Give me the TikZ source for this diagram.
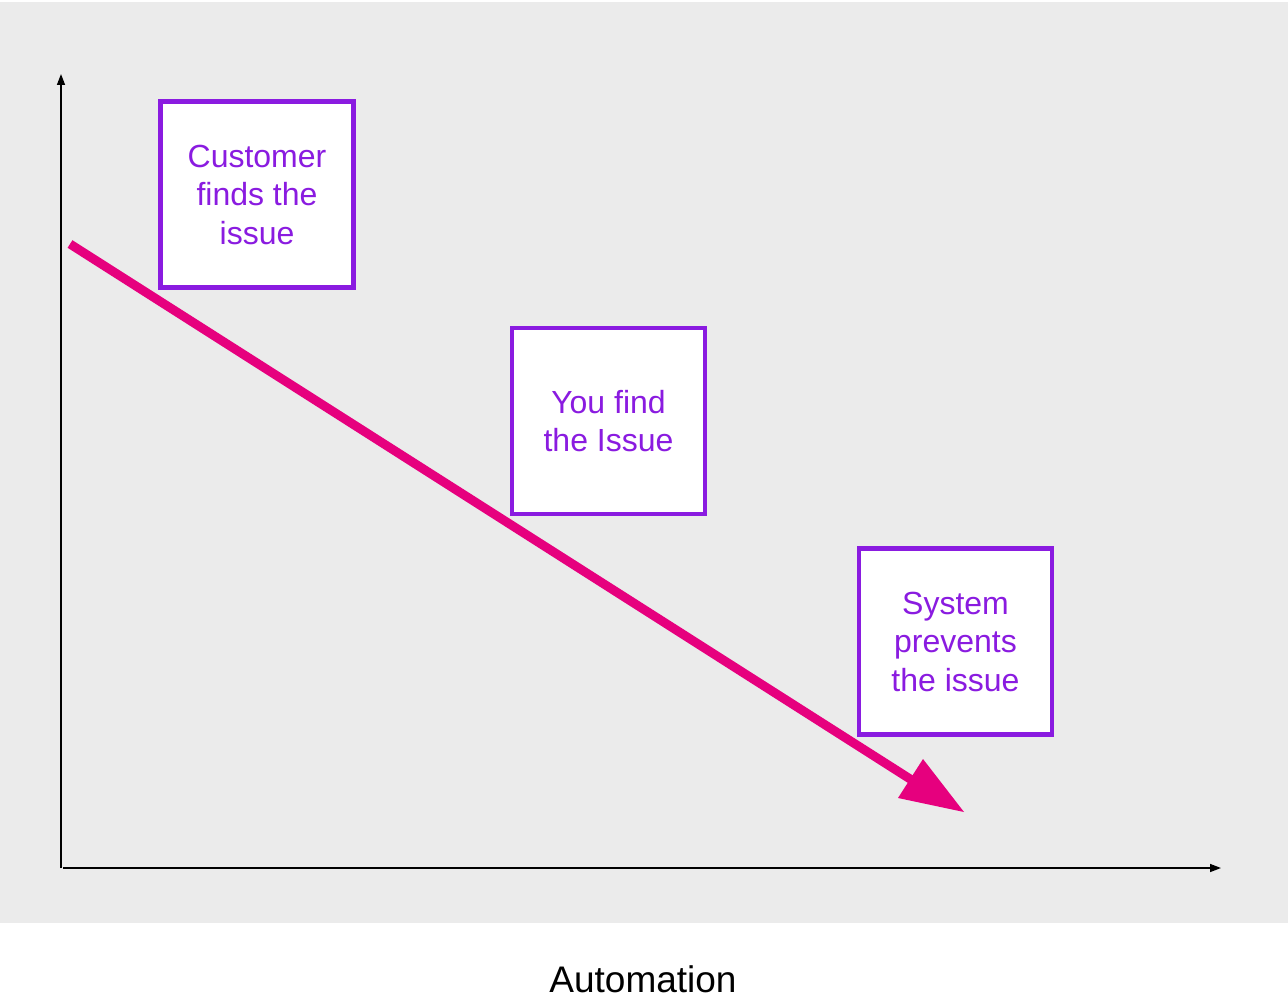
\documentclass[tikz,border=0pt]{standalone}
\usepackage{fontspec}
\setmainfont{Liberation Sans}
\usetikzlibrary{arrows.meta}
\definecolor{bggray}{HTML}{EBEBEB}
\definecolor{boxpurple}{HTML}{8A1BE0}
\definecolor{arrowpink}{HTML}{E6007E}
\begin{document}
\begin{tikzpicture}[x=1pt,y=-1pt,
  stagebox/.style={draw=boxpurple,line width=4.5pt,fill=white,minimum width=193pt,minimum height=186pt,
    text=boxpurple,align=center,font=\fontsize{32}{38.5}\selectfont,inner sep=0pt},
  axisline/.style={line width=1.5pt,-{Triangle[length=11pt,width=8pt]}}]
\useasboundingbox (0,0) rectangle (1288,998);
\fill[bggray] (0,2) rectangle (1288,923);
% axes
\coordinate (origin) at (61,868);
\coordinate (ytop) at (61,74);
\coordinate (xorigin) at (63,868);
\coordinate (xend) at (1221,868);
\draw[axisline] (origin) -- (ytop);
\draw[axisline] (xorigin) -- (xend);
% boxes
\node[stagebox] (b1) at (257,194.5) {Customer\\finds the\\issue};
\node[stagebox] (b2) at (608.5,421) {You find\\the Issue};
\node[stagebox] (b3) at (955.5,641.5) {System\\prevents\\the issue};
% pink arrow
\coordinate (pstart) at (70,244);
\coordinate (pmid) at (918,784);
\coordinate (h1) at (923,759);
\coordinate (h2) at (898,798);
\coordinate (tip) at (964,812);
\draw[arrowpink,line width=9pt] (pstart) -- (pmid);
\fill[arrowpink] (h1) -- (tip) -- (h2) -- cycle;
% label
\node[font=\fontsize{37}{40}\selectfont,anchor=base] (lab) at (643,992) {Automation};
\end{tikzpicture}
\end{document}
